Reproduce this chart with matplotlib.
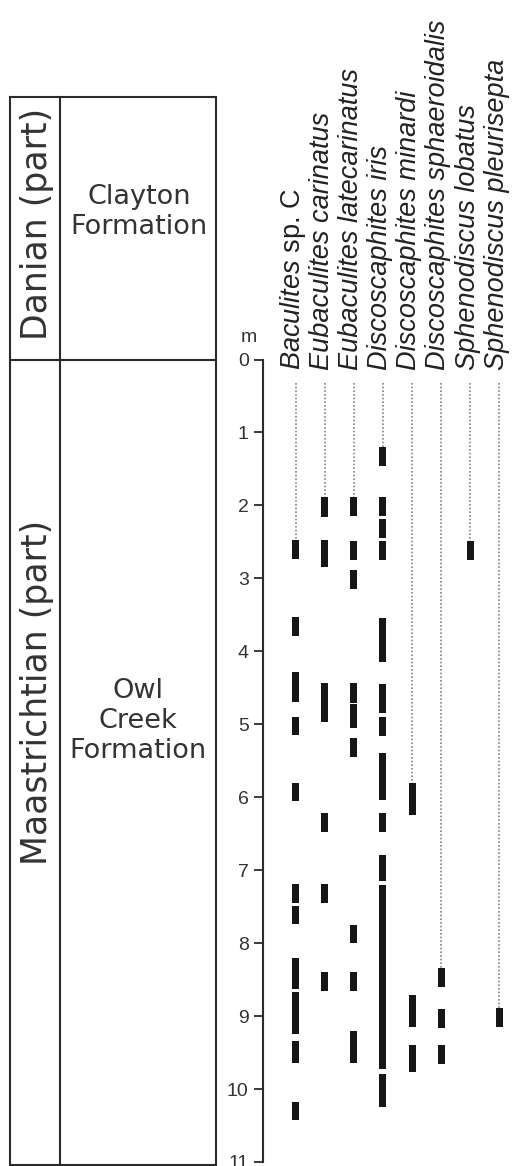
import matplotlib
matplotlib.use("Agg")
from matplotlib import pyplot as plt
from matplotlib import transforms

plt.rcParams['font.family'] = ['Liberation Sans', 'DejaVu Sans']
plt.rcParams['mathtext.fontset'] = 'custom'
plt.rcParams['mathtext.it'] = 'Liberation Sans:italic'
plt.rcParams['mathtext.rm'] = 'Liberation Sans'

# species (column order, left to right)
species = [r"$\mathit{Baculites}$ sp. C",
           "Eubaculites carinatus",
           "Eubaculites latecarinatus",
           "Discoscaphites iris",
           "Discoscaphites minardi",
           "Discoscaphites sphaeroidalis",
           "Sphenodiscus lobatus",
           "Sphenodiscus pleurisepta"]

# occurrence intervals, metres below the K/Pg boundary (top, base)
baculites_c = [(2.47, 2.74), (3.53, 3.79), (4.29, 4.69), (4.90, 5.15), (5.80, 6.05),
               (7.19, 7.45), (7.49, 7.74), (8.20, 8.63), (8.67, 9.25), (9.34, 9.64),
               (10.18, 10.43)]
eub_carinatus = [(1.89, 2.16), (2.47, 2.84), (4.43, 4.97), (6.21, 6.47), (7.19, 7.45),
                 (8.40, 8.65)]
eub_latecarinatus = [(1.89, 2.15), (2.49, 2.75), (2.88, 3.15), (4.44, 4.71), (4.72, 5.05),
                     (5.19, 5.45), (7.75, 8.00), (8.40, 8.65), (9.20, 9.64)]
disc_iris = [(1.20, 1.46), (1.88, 2.14), (2.19, 2.45), (2.49, 2.75), (3.54, 4.15),
             (4.45, 4.84), (4.90, 5.16), (5.40, 6.04), (6.22, 6.48), (6.79, 7.15),
             (7.20, 9.73), (9.80, 10.24)]
disc_minardi = [(5.81, 6.24), (8.71, 9.15), (9.40, 9.76)]
disc_sphaeroidalis = [(8.34, 8.60), (8.90, 9.16), (9.39, 9.65)]
sph_lobatus = [(2.49, 2.75)]
sph_pleurisepta = [(8.89, 9.15)]

ranges = [baculites_c, eub_carinatus, eub_latecarinatus, disc_iris,
          disc_minardi, disc_sphaeroidalis, sph_lobatus, sph_pleurisepta]

depth_ticks = list(range(0, 12))

W, H = 514, 1166
fig = plt.figure(figsize=(W / 100, H / 100), dpi=100)

# background layer in pixel units for the stratigraphic columns
bg = fig.add_axes([0, 0, 1, 1])
bg.set_xlim(0, W)
bg.set_ylim(H, 0)
bg.axis('off')

box_col = '#2b2b2b'
lw_box = 1.5
bg.plot([9.5, 216, 216, 9.5, 9.5], [96.5, 96.5, 1165, 1165, 96.5],
        color=box_col, lw=lw_box, solid_joinstyle='miter')
bg.plot([59.5, 59.5], [96.5, 1165], color=box_col, lw=lw_box)
bg.plot([9.5, 216], [359.5, 359.5], color=box_col, lw=lw_box)

txt_col = '#333333'
bg.text(47, 224, "Danian (part)", rotation=90, rotation_mode='anchor',
        ha='center', va='baseline', fontsize=25, color=txt_col, family='DejaVu Sans')
bg.text(47, 692, "Maastrichtian (part)", rotation=90, rotation_mode='anchor',
        ha='center', va='baseline', fontsize=25, color=txt_col, family='DejaVu Sans')
bg.text(139, 212, "Clayton\nFormation", ha='center', va='center', fontsize=19.5,
        color=txt_col, family='DejaVu Sans', linespacing=1.2)
bg.text(138, 721, "Owl\nCreek\nFormation", ha='center', va='center', fontsize=19.5,
        color=txt_col, family='DejaVu Sans', linespacing=1.2)
bg.text(249, 338, "m", ha='center', va='center', fontsize=14, color=txt_col)

# range chart
x0, y0, y1 = 263.3, 359.5, 1162
ax = fig.add_axes([x0 / W, 1 - y1 / H, (W - x0) / W, (y1 - y0) / H])
ax.set_facecolor('none')
ax.set_ylim(11, 0)
ax.set_xlim(-1.114, 7.505)
for s in ['top', 'right', 'bottom']:
    ax.spines[s].set_visible(False)
ax.spines['left'].set_linewidth(1.5)
ax.spines['left'].set_color(box_col)
ax.set_xticks([])
ax.set_yticks(depth_ticks)
ax.tick_params(axis='y', length=6.5, width=1.3, color=box_col, pad=4,
               labelsize=14, labelcolor=txt_col)

lab_tr = transforms.offset_copy(ax.transData, fig=fig, x=4.3, y=0, units='dots')
for i, (name, occ) in enumerate(zip(species, ranges)):
    tops = [a for a, b in occ]
    lens = [b - a for a, b in occ]
    ax.bar([i] * len(occ), lens, bottom=tops, width=0.24, color='#161616', lw=0)
    ax.vlines(i, 0.32, min(tops), colors='#7a7a7a', lw=1.1, linestyles=(0, (1.1, 1.3)))
    ax.text(i, 0.14, name, transform=lab_tr, rotation=90, rotation_mode='anchor',
            ha='left', va='baseline', fontsize=19.5, color='#222222',
            style='normal' if '$' in name else 'italic')

fig.savefig('out.png', dpi=100)
